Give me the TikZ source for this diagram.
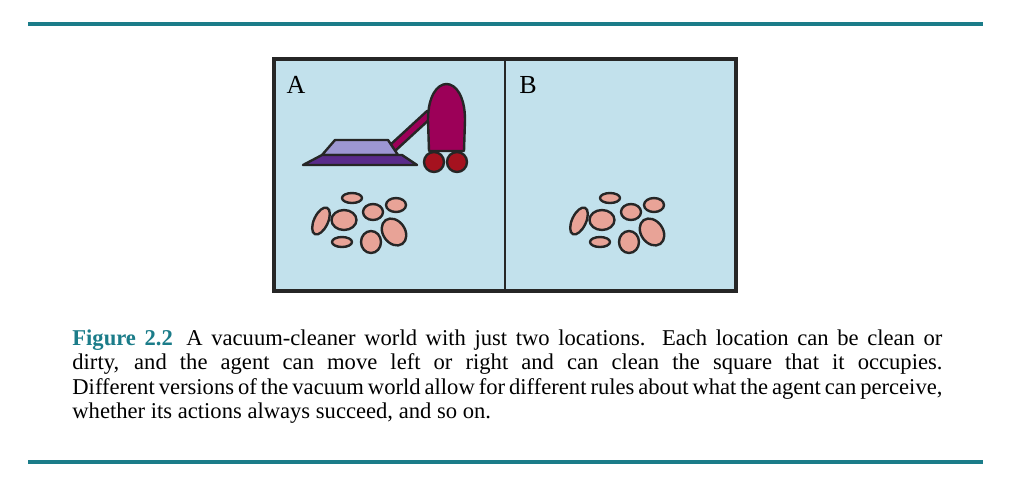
\documentclass[tikz,border=0pt]{standalone}
\usepackage{fontspec}
\setmainfont{Liberation Serif}
\definecolor{rulecol}{HTML}{1B7C89}
\definecolor{floor}{HTML}{C2E1EC}
\definecolor{dirtcol}{HTML}{E8A397}
\definecolor{basecol}{HTML}{5A2B8B}
\definecolor{headcol}{HTML}{9D97D3}
\definecolor{bodycol}{HTML}{9C0058}
\definecolor{wheelcol}{HTML}{A5121F}
\begin{document}
\begin{tikzpicture}
  [x=0.5pt,y=-0.5pt
  ,part/.style={draw=black!85,line width=1.2pt,line join=round}
  ,speck/.style={part,fill=dirtcol}
  ]

  % Dirt pile
  %
  % #1 - x shift
  \newcommand{\dirtpile}[1]{
    \begin{scope}[xshift=#1*0.5pt]
      \path[speck] (352,198) ellipse [x radius=10,y radius=5];
      \path[speck] (321,221) ellipse [x radius=7,y radius=14.5,rotate=-25];
      \path[speck] (344,220) ellipse [x radius=12.5,y radius=10];
      \path[speck] (373,212) ellipse [x radius=10,y radius=8];
      \path[speck] (396,205) ellipse [x radius=10,y radius=7];
      \path[speck] (342,242) ellipse [x radius=10,y radius=5];
      \path[speck] (371,242) ellipse [x radius=10,y radius=11];
      \path[speck] (394,232) ellipse [x radius=11,y radius=14.5,rotate=35];
    \end{scope}
  }

  \useasboundingbox (0,0) rectangle (1029,489);

  % rules
  \draw[rulecol,line width=1.6pt] (28,24) -- (983,24);
  \draw[rulecol,line width=1.6pt] (28,462) -- (983,462);

  % world
  \path[fill=floor] (274,59) rectangle (736,291);
  \node[anchor=base,font=\fontsize{13}{13}\selectfont] (a) at (296,93) {A};
  \node[anchor=base,font=\fontsize{13}{13}\selectfont] (b) at (528,93) {B};

  % vacuum
  \path[part,fill=bodycol] (390,145) -- (427,111) -- (432,117) -- (395,151) -- cycle;
  \path[part,fill=headcol] (322,155) -- (335,140) -- (388,140) -- (398,155) -- cycle;
  \path[part,fill=basecol] (303,165) -- (322,155) -- (402,155) -- (417,165) -- cycle;
  \path[part,fill=bodycol] (429,151) -- (428,120) .. controls (428,72) and (465,72) .. (465,120) -- (464,151) -- cycle;
  \path[part,fill=wheelcol] (434,162) circle (10);
  \path[part,fill=wheelcol] (457,162) circle (10);

  \dirtpile{0}
  \dirtpile{258}

  % contour
  \draw[black!85,line width=1.6pt] (274,59) rectangle (736,291);
  \draw[black!85,line width=1pt] (505,59) -- (505,291);

  % caption
  \node[anchor=north west,inner sep=0pt,text width=435pt,align=justify,
        font=\fontsize{11.3}{12.25}\selectfont] (cap) at (72,329)
    {\textcolor{rulecol}{\textbf{Figure 2.2}}\hspace{0.6em}A vacuum-cleaner world with just two locations. Each location can be clean or\linebreak dirty, and the agent can move left or right and can clean the square that it occupies.\linebreak Different versions of the vacuum world allow for different rules about what the agent can perceive,\linebreak whether its actions always succeed, and so on.};
\end{tikzpicture}
\end{document}
